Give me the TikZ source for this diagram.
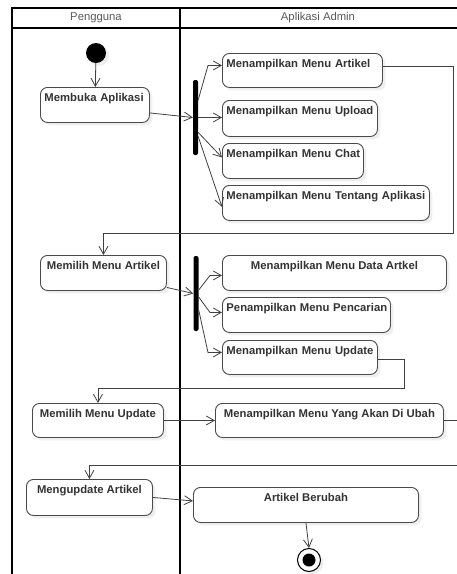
\documentclass[tikz,border=0pt]{standalone}
\usepackage{fontspec}
\setmainfont{Liberation Sans}
\usetikzlibrary{arrows.meta,shadows,calc}
\definecolor{txt}{HTML}{333333}
\definecolor{edge}{HTML}{4A4A4A}
\definecolor{conn}{HTML}{404040}
\tikzset{
  lane/.style={line width=1.5pt, draw=black},
  hdr/.style={font=\fontsize{11.3}{13}\selectfont, text=black!65, inner sep=0pt},
  act/.style={draw=edge, line width=0.9pt, rounded corners=7pt, fill=white,
    anchor=north west, inner xsep=4pt, inner ysep=0pt, text height=14.5pt,
    font=\bfseries\fontsize{11.3}{13}\selectfont, text=txt,
    drop shadow={shadow xshift=3pt, shadow yshift=-3pt, opacity=0.13}},
  actl/.style={act, align=left, text width=#1},
  forkbar/.style={fill=black, rounded corners=2pt, minimum width=5pt, minimum height=75pt, inner sep=0pt},
  flow/.style={draw=conn, line width=0.8pt, -{Straight Barb[length=8pt,width=9pt,line width=0.8pt]}},
}
\begin{document}
\begin{tikzpicture}[x=1pt,y=-1pt]
\useasboundingbox (0,0) rectangle (456,574);
% swimlanes
\draw[lane] (12,580) -- (12,8) -- (460,8);
\draw[lane] (12,28) -- (460,28);
\draw[lane] (180,8) -- (180,580);
\node[hdr] (h1) at (96,18) {Pengguna};
\node[hdr] (h2) at (318,18) {Aplikasi Admin};
% initial
\node[circle, fill=black, minimum size=20pt, inner sep=0pt,
  drop shadow={shadow xshift=3pt, shadow yshift=-3pt, opacity=0.13}] (init) at (96,53) {};
% activities
\node[actl=101pt, text depth=20.5pt] (mb) at (40,87) {\mbox{Membuka Aplikasi}};
\node[actl=152pt, text depth=19.5pt] (a1) at (222,53) {\mbox{Menampilkan Menu Artikel}};
\node[actl=147pt, text depth=21.5pt] (a2) at (222,100) {\mbox{Menampilkan Menu Upload}};
\node[actl=133pt, text depth=20.5pt] (a3) at (222,143) {\mbox{Menampilkan Menu Chat}};
\node[actl=199pt, text depth=20.5pt] (a4) at (222,185) {\mbox{Menampilkan Menu Tentang Aplikasi}};
\node[act, minimum width=126pt, text depth=20.5pt] (ma) at (40,255) {Memilih Menu Artikel};
\node[act, minimum width=224pt, text depth=20.5pt] (b1) at (222,255) {Menampilkan Menu Data Artkel};
\node[actl=160pt, text depth=20.5pt] (b2) at (222,297) {\mbox{Penampilkan Menu Pencarian}};
\node[actl=147pt, text depth=19.5pt] (b3) at (222,340) {\mbox{Menampilkan Menu Update}};
\node[act, minimum width=131pt, text depth=19.5pt] (mu) at (32,403) {Memilih Menu Update};
\node[act, minimum width=228pt, text depth=19.5pt] (yu) at (215,403) {Menampilkan Menu Yang Akan Di Ubah};
\node[act, minimum width=126pt, text depth=21.5pt] (mg) at (26,479) {Mengupdate Artikel};
\node[act, minimum width=225pt, text depth=20.5pt] (ab) at (193,487) {Artikel Berubah};
% fork bars
\node[forkbar] (f1) at (195.5,117.5) {};
\node[forkbar] (f2) at (196,293.5) {};
% final
\node[circle, draw=black, line width=1pt, minimum size=23pt, inner sep=0pt, fill=white,
  drop shadow={shadow xshift=3pt, shadow yshift=-3pt, opacity=0.13},
  path picture={\fill[black] (path picture bounding box.center) circle (6.5pt);}] (fin) at (309,560) {};
% bend points
\coordinate (r1) at (453,233);
\coordinate (r2) at (404,388);
\coordinate (r3) at (470,465);
% connectors
\draw[flow] (init) -- (mb);
\draw[flow] ([yshift=-8pt]mb.east) -- (f1.west);
\draw[flow] ([yshift=17.5pt]f1.east) -- ([xshift=-14pt,yshift=5pt]a1.west) -- ([yshift=5pt]a1.west);
\draw[flow] (f1.east) -- (f1.east -| a2.west);
\draw[flow] ([yshift=-15pt]f1.east) -- ([yshift=3.5pt]a3.west);
\draw[flow] ([yshift=-19pt]f1.east) -- ([yshift=-4pt]a4.west);
\draw[flow] ([yshift=4pt]a1.east) -| (r1) -| (ma.north);
\draw[flow] ([yshift=-14.5pt]ma.east) -- (f2.west);
\draw[flow] ([yshift=3.5pt]f2.east) -- ([xshift=-12pt,yshift=-2.5pt]b1.west) -- ([yshift=-2.5pt]b1.west);
\draw[flow] ([yshift=-3.5pt]f2.east) -- ([xshift=-12pt,yshift=2.5pt]b2.west) -- ([yshift=2.5pt]b2.west);
\draw[flow] ([yshift=-16.5pt]f2.east) -- ([xshift=-14pt,yshift=5pt]b3.west) -- ([yshift=5pt]b3.west);
\draw[flow] ([yshift=-2pt]b3.east) -| (r2) -| (mu.north);
\draw[flow] (mu.east) -- (yu.west);
\draw[flow] (yu.east) -| (r3) -| (mg.north);
\draw[flow] (mg.east) -- ([yshift=4pt]ab.west);
\draw[flow] (ab.south) -- (fin.north);
\end{tikzpicture}
\end{document}
